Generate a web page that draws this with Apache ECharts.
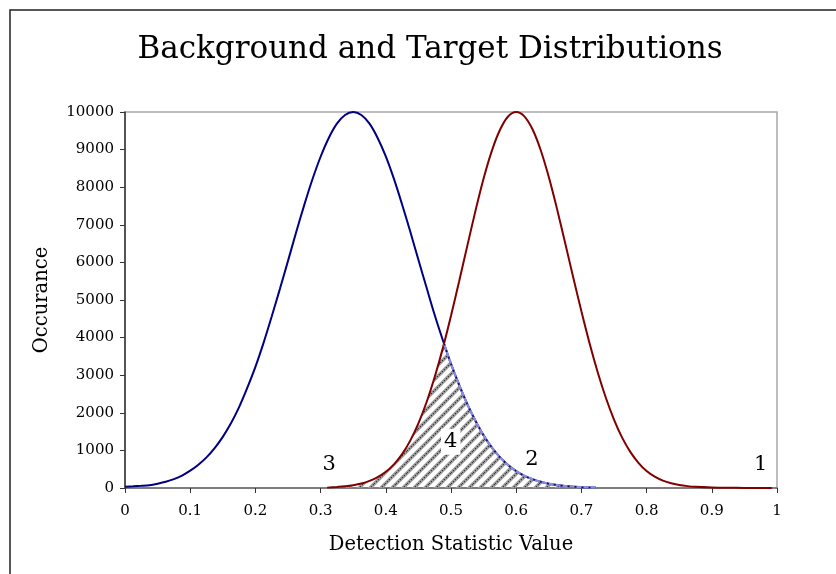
<!DOCTYPE html>
<html>
<head>
<meta charset="utf-8">
<script src="https://cdn.jsdelivr.net/npm/echarts@6/dist/echarts.min.js"></script>
<style>
  html, body { margin: 0; padding: 0; background: #fff; }
  #chart { width: 836px; height: 574px; }
</style>
</head>
<body>
<div id="chart"></div>
<script>
// Background distribution (blue)
const backgroundX = [0.0000, 0.0125, 0.0250, 0.0375, 0.0500, 0.0625, 0.0750, 0.0875, 0.1000, 0.1125,
                     0.1250, 0.1375, 0.1500, 0.1625, 0.1750, 0.1875, 0.2000, 0.2125, 0.2250, 0.2375,
                     0.2500, 0.2625, 0.2750, 0.2875, 0.3000, 0.3125, 0.3250, 0.3375, 0.3500, 0.3625,
                     0.3750, 0.3875, 0.4000, 0.4125, 0.4250, 0.4375, 0.4500, 0.4625, 0.4750, 0.4875,
                     0.5000, 0.5125, 0.5250, 0.5375, 0.5500, 0.5625, 0.5750, 0.5875, 0.6000, 0.6125,
                     0.6250, 0.6375, 0.6500, 0.6625, 0.6750, 0.6875, 0.7000, 0.7125, 0.7220];
const backgroundY = [35, 45, 58, 75, 115, 165, 235, 330, 460, 620,
                     815, 1060, 1360, 1720, 2150, 2660, 3220, 3860, 4560, 5290,
                     6040, 6800, 7530, 8210, 8810, 9310, 9690, 9920, 10000, 9920,
                     9690, 9310, 8820, 8220, 7540, 6820, 6070, 5330, 4600, 3930,
                     3300, 2740, 2230, 1790, 1400, 1080, 820, 610, 450, 325,
                     235, 165, 115, 78, 52, 35, 22, 14, 10];

// Target distribution (red)
const targetX = [0.3100, 0.3250, 0.3375, 0.3500, 0.3625, 0.3750, 0.3875, 0.4000, 0.4125, 0.4250,
                 0.4375, 0.4500, 0.4625, 0.4750, 0.4875, 0.5000, 0.5125, 0.5250, 0.5375, 0.5500,
                 0.5625, 0.5750, 0.5875, 0.6000, 0.6125, 0.6250, 0.6375, 0.6500, 0.6625, 0.6750,
                 0.6875, 0.7000, 0.7125, 0.7250, 0.7375, 0.7500, 0.7625, 0.7750, 0.7875, 0.8000,
                 0.8125, 0.8250, 0.8375, 0.8500, 0.8625, 0.8750, 0.9000, 0.9250, 0.9500, 0.9750,
                 0.9920];
const targetY = [10, 27, 46, 76, 120, 190, 290, 430, 630, 900,
                 1260, 1720, 2280, 2950, 3720, 4580, 5500, 6440, 7370, 8230,
                 8960, 9520, 9880, 10000, 9885, 9540, 8990, 8270, 7430, 6520,
                 5600, 4700, 3850, 3080, 2400, 1820, 1340, 960, 670, 450,
                 300, 195, 125, 80, 50, 32, 14, 6, 3, 1,
                 0];

// Axis ticks
const xTicks = [0, 0.1, 0.2, 0.3, 0.4, 0.5, 0.6, 0.7, 0.8, 0.9, 1];
const yTicks = [0, 1000, 2000, 3000, 4000, 5000, 6000, 7000, 8000, 9000, 10000];

// Region labels
const regionText = ['1', '2', '3', '4'];
const regionX = [0.975, 0.624, 0.313, 0.4995];
const regionY = [612, 745, 612, 1231];

const FONT = '"DejaVu Serif", "Liberation Serif", serif';

function pairs(xs, ys) { return xs.map((x, i) => [x, ys[i]]); }
function interp(xs, ys, x) {
  for (let i = 0; i < xs.length - 1; i++) {
    if (x >= xs[i] && x <= xs[i + 1]) {
      const t = (x - xs[i]) / (xs[i + 1] - xs[i]);
      return ys[i] + t * (ys[i + 1] - ys[i]);
    }
  }
  return null;
}

// Where the two curves cross between their peaks
let xc = 0.49, yc = 3800;
for (let i = 0; i < backgroundX.length - 1; i++) {
  const a = backgroundX[i], b = backgroundX[i + 1];
  if (a < targetX[0] || a < 0.35 || b > 0.6) continue;
  const da = backgroundY[i] - interp(targetX, targetY, a);
  const db = backgroundY[i + 1] - interp(targetX, targetY, b);
  if (da >= 0 && db < 0) {
    const t = da / (da - db);
    xc = a + t * (b - a);
    yc = backgroundY[i] + t * (backgroundY[i + 1] - backgroundY[i]);
    break;
  }
}
// Overlap region: under the target curve left of the crossing, under the background curve right of it
const overlapLeft = pairs(targetX, targetY).filter(p => p[0] < xc).concat([[xc, yc]]);
const overlapRight = [[xc, yc]].concat(pairs(backgroundX, backgroundY).filter(p => p[0] > xc));

// Diagonal hatch pattern
const P = 11;
const hatch = document.createElement('canvas');
hatch.width = P; hatch.height = P;
(function () {
  const c = hatch.getContext('2d');
  const diag = () => {
    c.beginPath();
    c.moveTo(-P / 2, P / 2); c.lineTo(P / 2, -P / 2);
    c.moveTo(0, P); c.lineTo(P, 0);
    c.moveTo(P / 2, P * 1.5); c.lineTo(P * 1.5, P / 2);
    c.stroke();
  };
  c.strokeStyle = '#a0a0a0';
  c.lineWidth = 3.6;
  diag();
  c.strokeStyle = '#2a2a2a';
  c.lineWidth = 1.1;
  c.setLineDash([1.2, 1.6]);
  diag();
})();

const chart = echarts.init(document.getElementById('chart'), null, { renderer: 'canvas' });

chart.setOption({
  animation: false,
  backgroundColor: '#fff',
  title: {
    text: 'Background and Target Distributions',
    left: 425, top: 29, textAlign: 'center',
    textStyle: { fontFamily: FONT, fontSize: 31, fontWeight: 'normal', color: '#000' }
  },
  graphic: [{
    type: 'rect', silent: true, z: -1,
    shape: { x: 10, y: 10, width: 900, height: 700 },
    style: { fill: 'none', stroke: '#222', lineWidth: 1.5 }
  }],
  grid: {
    left: 125, right: 59, top: 112, bottom: 86,
    show: true, borderColor: '#a8a8a8', borderWidth: 1.5, backgroundColor: '#fff'
  },
  xAxis: {
    type: 'value', min: 0, max: 1, interval: 0.1,
    name: 'Detection Statistic Value', nameLocation: 'middle', nameGap: 47,
    nameTextStyle: { fontFamily: FONT, fontSize: 19.5, color: '#000' },
    axisLine: { lineStyle: { color: '#6a6a6a', width: 1.5 } },
    axisTick: { show: true, inside: false, length: 5, lineStyle: { color: '#333' } },
    axisLabel: {
      margin: 16, fontFamily: FONT, fontSize: 15, color: '#000',
      formatter: v => { const t = xTicks.find(k => Math.abs(k - v) < 1e-9); return t === undefined ? '' : String(t); }
    },
    splitLine: { show: false }
  },
  yAxis: {
    type: 'value', min: 0, max: 10000, interval: 1000,
    name: 'Occurance', nameLocation: 'middle', nameGap: 73, nameRotate: 90,
    nameTextStyle: { fontFamily: FONT, fontSize: 19.5, color: '#000' },
    axisLine: { show: true, lineStyle: { color: '#333', width: 1.5 } },
    axisTick: { show: true, inside: false, length: 5, lineStyle: { color: '#333' } },
    axisLabel: {
      margin: 11, fontFamily: FONT, fontSize: 15, color: '#000',
      formatter: v => { const t = yTicks.find(k => k === v); return t === undefined ? '' : String(t); }
    },
    splitLine: { show: false }
  },
  series: [
    {
      name: 'Overlap left', type: 'line', data: overlapLeft, smooth: 0.3,
      symbol: 'none', silent: true, z: 1,
      lineStyle: { width: 0 },
      areaStyle: { color: { image: hatch, repeat: 'repeat' }, opacity: 1 }
    },
    {
      name: 'Overlap right', type: 'line', data: overlapRight, smooth: 0.3,
      symbol: 'none', silent: true, z: 1,
      lineStyle: { width: 0 },
      areaStyle: { color: { image: hatch, repeat: 'repeat' }, opacity: 1 }
    },
    {
      name: 'Background', type: 'line', data: pairs(backgroundX, backgroundY), smooth: 0.3,
      symbol: 'none', z: 3,
      lineStyle: { color: '#000080', width: 2 }
    },
    {
      name: 'Target', type: 'line', data: pairs(targetX, targetY), smooth: 0.3,
      symbol: 'none', z: 3,
      lineStyle: { color: '#800000', width: 2 }
    },
    {
      name: 'Overlap edge', type: 'line', data: overlapRight, smooth: 0.3,
      symbol: 'none', silent: true, z: 4,
      lineStyle: { color: '#8c8ce6', width: 2.2 }
    },
    {
      name: 'Overlap edge dash', type: 'line', data: overlapRight, smooth: 0.3,
      symbol: 'none', silent: true, z: 5,
      lineStyle: { color: '#101030', width: 1.6, type: [2, 5] }
    },
    {
      name: 'Regions', type: 'scatter', symbolSize: 0, z: 6, silent: true,
      itemStyle: { opacity: 1 },
      data: regionText.map((t, i) => ({
        value: [regionX[i], regionY[i]], name: t,
        label: t === '4' ? { backgroundColor: '#fff', padding: [3, 3, 2, 3] } : {}
      })),
      label: {
        show: true, position: 'inside', formatter: p => p.name,
        fontFamily: FONT, fontSize: 21, color: '#000', opacity: 1
      }
    }
  ]
});
</script>
</body>
</html>
